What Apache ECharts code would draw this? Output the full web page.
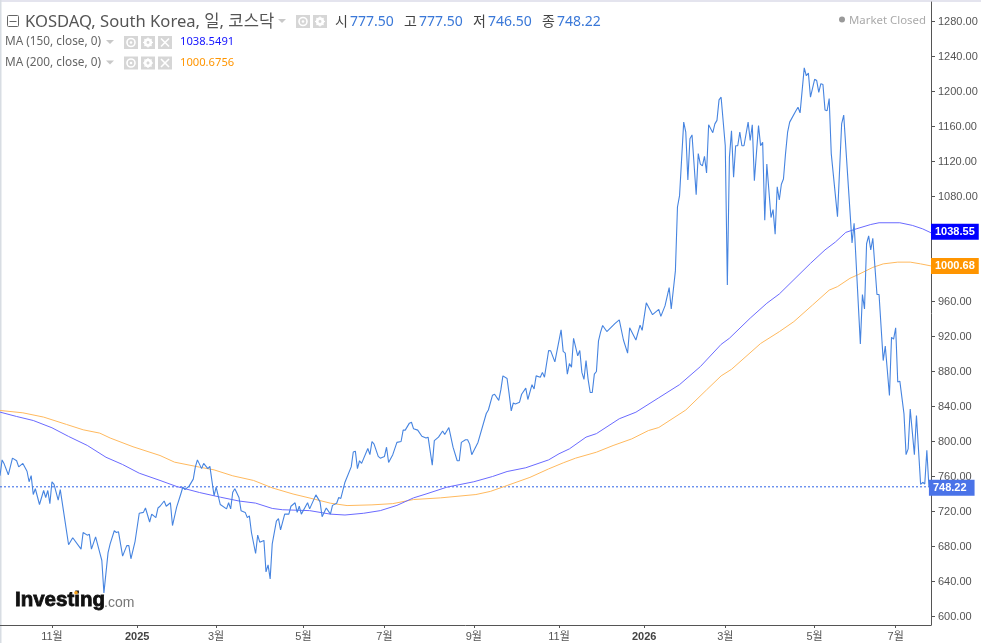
<!DOCTYPE html>
<html>
<head>
<meta charset="utf-8">
<style>html,body{margin:0;padding:0;background:#fff;overflow:hidden}#c{width:981px;height:643px}</style>
<script src="https://cdn.jsdelivr.net/npm/echarts@6/dist/echarts.min.js"></script>
</head>
<body>
<div id="c"></div>
<script>
const priceSeries = [[0,761],[1,779],[2,774.5],[4,762],[6,781],[8,778],[9,771],[11,775],[13,766],[14,754],[15,761],[16,739.5],[17,746],[19,728],[21,744],[22,736],[23,744],[24,729],[25,754],[26,751],[28,733],[29,745],[31,713.5],[33,682],[35,690],[39,677],[40,696],[42,693],[43,694],[44,677],[46,691],[48,673],[49,664],[50,627],[52,673],[53,683],[55,698],[56,696],[57,697],[59,669],[61,681],[62,681],[63,666],[65,686],[67,718],[69,719],[70,724],[72,708],[73,717],[75,713],[76,724],[77,726],[79,732],[80,726],[82,730],[83,704],[85,725],[87,740],[88,748],[89,745],[91,749],[93,757],[94,771],[95,779],[97,769],[98,775],[100,769],[101,771.5],[103,738],[104,748],[106,728],[109,723],[110,730],[111,723],[112,742],[113,746],[115,736],[116,721],[118,719],[119,713],[120,715],[121,696],[123,672],[124,693],[125,685],[127,687],[128,651],[129,659],[130,643],[131,683],[133,709],[134,712],[135,699],[137,717],[139,717],[140,726],[142,730],[143,719],[144,726],[145,717],[148,730],[149,723],[152,739],[154,731],[155,714],[157,724],[159,717],[160,727],[162,729.5],[163,736],[164,735],[166,753.5],[169,771],[170,788],[171,789],[172,769],[173,778],[174,775],[177,792],[178,785],[179,800],[180,797],[182,783],[183,781],[185,783],[186,793.5],[187,776],[189,785],[191,799],[193,800],[194,813],[195,813],[197,821],[198,822],[199,814.5],[201,813],[203,806],[205,804],[206,805],[208,773],[209,801],[211,805],[213,812],[214,808],[216,816],[218,793.5],[220,778],[221,778],[222,799],[224,802],[225,802],[226,797],[227,785],[230,799],[234,832],[235,836],[237,853],[238,854],[240,847],[241,859],[242,875],[244,872],[245,854.4],[246,835],[247,844],[248,843],[250,845],[251,854],[253,861],[254,848],[256,865],[257,860],[258,875],[260,873.5],[261,879],[262,873.5],[264,904],[265,903.6],[267,891],[270,927.6],[271,903],[272,901],[273,877],[274,889],[275,885],[276,918],[278,898],[279,904],[280,879],[281,871],[282,892.5],[283,871],[284,856],[285,856],[286,877],[287,880],[288,915],[289,925],[290,932.6],[292,925.7],[296,935],[298,939],[300,916],[302,901],[303,930],[306,916],[308,933],[309,927],[311,958.5],[314,945],[317,951],[318,943],[320,955],[322,976],[323,951.5],[325,995],[326,1068],[327,1081],[329,1165],[330,1153.5],[331,1099],[332,1146],[333,1150.4],[335,1082],[336,1129],[337,1117],[338,1115],[339,1126],[340,1107],[341,1162],[343,1153],[344,1163],[345,1167],[346,1190.4],[347,1193.5],[349,1138],[350,979],[351,1125],[352,1155],[353,1102],[354,1138],[355,1138],[356,1153.5],[357,1138],[358,1138],[360,1165],[361,1144],[362,1162],[363,1098],[365,1161],[366,1138],[367,1142],[368,1053],[369,1117],[371,1056],[372,1065],[373,1037],[374,1091],[375,1076],[376,1094],[377,1100],[378,1129],[379,1153.5],[380,1165],[383,1178],[384,1182],[385,1175.6],[387,1227],[388,1218],[389,1221],[390,1193.5],[392,1214],[393,1212.5],[394,1199],[395,1209],[396,1208],[397,1179],[398,1178],[399,1192],[400,1129],[403,1057],[405,1163],[406,1173],[410,1027],[411,1049.5],[414,911.6],[415,968],[416,951.6],[417,1026],[418,1035],[419,1019],[420,1032.3],[422,968],[423,968],[425,892.5],[426,909],[428,852.5],[429,919],[430,917],[431,930],[432,868],[433,869],[435,831.6],[436,785],[437,791.6],[438,837],[440,785],[441,829.6],[443,751],[444,753.4],[445,751.5],[446,790],[447,748.22]];
const ma150Series = [[0,833.6],[8,828.6],[16,824],[25,815.7],[33,805.8],[42,795.5],[51,782],[59,773.7],[67,763.8],[77,755.5],[85,748.6],[96,741.7],[106,736.4],[115,732],[123,729.6],[131,723.5],[136,722],[149,721],[159,717],[166,716],[175,718],[183,721],[191,727],[199,735.6],[205,740],[215,747.8],[228,754],[237,760],[244,765.7],[253,770],[264,779],[269,786],[274,791.6],[282,805],[287,809],[298,826],[306,833.5],[317,850],[327,865],[337,885.6],[347,911],[351,918],[361,941],[369,958],[375,968.6],[390,1003.6],[397,1019],[402,1028],[407,1039],[412,1043],[419,1048],[423,1050],[433,1050],[439,1047],[444,1043],[448,1038.55]];
const ma200Series = [[0,835.5],[11,832.8],[21,827.9],[32,819.5],[40,813.4],[48,809.6],[53,804],[64,794],[77,784],[84,776.4],[96,770.7],[103,767.6],[112,760.8],[122,755.5],[131,747],[141,740],[152,733.7],[159,729.5],[167,726.8],[179,727.6],[189,729],[199,733.7],[212,735.6],[229,739.4],[236,743],[244,749.7],[255,759],[264,768.7],[271,775.6],[277,781],[287,787.8],[295,795.4],[304,803],[312,812.5],[317,816],[330,836],[340,859],[347,875],[352,882.5],[366,912],[375,925.5],[382,937],[391,956],[399,973],[403,977],[409,986.5],[413,990.8],[420,999],[425,1003],[432,1005],[438,1005],[443,1003],[448,1000.68]];
const priceTicks = [600,640,680,720,760,800,840,880,920,960,1000,1040,1080,1120,1160,1200,1240,1280];
const monthTicks = [25,66,104,146,185,228,269,310,349,392,431];
const monthLabels = ['11월','2025','3월','5월','7월','9월','11월','2026','3월','5월','7월'];
const lastPrice = 748.22;
const lastPriceLine = [[0,lastPrice],[448,lastPrice]];
const ohlc = [['시','777.50'],['고','777.50'],['저','746.50'],['종','748.22']];
const maRows = [['MA (150, close, 0)','1038.5491','#1414ff'],['MA (200, close, 0)','1000.6756','#ff9500']];

const UI = "'Noto Sans','Noto Sans CJK KR',sans-serif";
const g = [];
const text = (x,y,s,fill,font,extra) => g.push({type:'text',x,y,silent:true,style:Object.assign({text:s,fill,font,textVerticalAlign:'middle',textBaseline:'middle'},extra||{})});
const rect = (x,y,w,h,fill) => g.push({type:'rect',shape:{x,y,width:w,height:h},style:{fill},silent:true});
const caret = (x,y) => g.push({type:'polygon',shape:{points:[[x,y],[x+8,y],[x+4,y+4]]},style:{fill:'#c8c8c8'},silent:true});
const box = '#d6d6d6';
function eye(x,y){rect(x,y,14,13,box);g.push({type:'circle',shape:{cx:x+7,cy:y+6.5,r:4},style:{fill:'none',stroke:'#fff',lineWidth:1.6},silent:true});g.push({type:'circle',shape:{cx:x+7,cy:y+6.5,r:1.3},style:{fill:'#fff'},silent:true});}
function gear(x,y){rect(x,y,14,13,box);g.push({type:'circle',shape:{cx:x+7,cy:y+6.5,r:3},style:{fill:'none',stroke:'#fff',lineWidth:2.4},silent:true});
 [[7,1.5,7,11.5],[2,6.5,12,6.5],[3.5,3,10.5,10],[3.5,10,10.5,3]].forEach(l=>g.push({type:'line',shape:{x1:x+l[0],y1:y+l[1],x2:x+l[2],y2:y+l[3]},style:{stroke:'#fff',lineWidth:1.2},silent:true}));
 g.push({type:'circle',shape:{cx:x+7,cy:y+6.5,r:1.4},style:{fill:box},silent:true});}
function cross(x,y){rect(x,y,14,13,box);[[3,2.5,11,10.5],[3,10.5,11,2.5]].forEach(l=>g.push({type:'line',shape:{x1:x+l[0],y1:y+l[1],x2:x+l[2],y2:y+l[3]},style:{stroke:'#fff',lineWidth:1.6},silent:true}));}

// frame strips
rect(0,0,981,2,'#e4e4ee');
rect(0,0,1.5,643,'#d8dde3');
// title row
g.push({type:'rect',shape:{x:7.5,y:15.5,width:11,height:11,r:1},style:{fill:'none',stroke:'#666',lineWidth:1},silent:true});
g.push({type:'line',shape:{x1:9.5,y1:21.5,x2:16.5,y2:21.5},style:{stroke:'#666',lineWidth:1},silent:true});
text(25,22,'KOSDAQ, South Korea, 일, 코스닥','#555',"16.6px "+UI);
caret(278,19);
eye(296,15);gear(313,15);
let ox=[335,404,473,542];
ohlc.forEach((o,i)=>{text(ox[i],22,o[0],'#444',"14px "+UI);text(ox[i]+15,22,o[1],'#3a78d8',"14px "+UI);});
// MA rows
maRows.forEach((r,i)=>{const y=42+i*20.5;
 text(5,y,r[0],'#666',"11.8px "+UI);caret(106,y-2);eye(124,y-6);gear(141,y-6);cross(158,y-6);
 text(180,y,r[1],r[2],"11.2px "+UI);});
// market closed
g.push({type:'circle',shape:{cx:842,cy:19.5,r:3},style:{fill:'#999'},silent:true});
text(849,20.5,'Market Closed','#aaa',"11.4px "+UI);
// logo
text(15,600.5,'Investing','#111',"bold 20.5px 'Liberation Sans'",{stroke:'#111',lineWidth:0.8});
text(104,603.5,'.com','#777',"14px 'Liberation Sans'");
g.push({type:'circle',shape:{cx:76,cy:592.7,r:1.8},style:{fill:'#f7a11a'},silent:true});

const tag = (bg,pad,off) => ({show:true,formatter:p=>p.value[1].toFixed(2),color:'#fff',backgroundColor:bg,
  fontFamily:"'Liberation Sans'",fontSize:11,fontWeight:'bold',lineHeight:10,padding:pad,distance:0,align:'left',offset:off||[0,0]});

const chart = echarts.init(document.getElementById('c'),null,{renderer:'canvas'});
chart.setOption({
 animation:false,
 grid:{left:0,right:50,top:2,bottom:18},
 xAxis:{type:'value',min:0,max:448,splitLine:{show:false},
  axisLine:{show:true,onZero:false,lineStyle:{color:'#555',width:1}},
  axisTick:{show:true,length:3,customValues:monthTicks,lineStyle:{color:'#555'}},
  axisLabel:{show:true,customValues:monthTicks,margin:6,hideOverlap:false,showMinLabel:true,showMaxLabel:true,
   formatter:v=>{const s=monthLabels[monthTicks.indexOf(v)];return /^\d{4}$/.test(s)?'{y|'+s+'}':s;},
   color:'#555',fontSize:11,fontFamily:"'Liberation Sans','Noto Sans CJK KR'",
   rich:{y:{fontWeight:'bold',color:'#444',fontSize:11,fontFamily:"'Liberation Sans'"}}}},
 yAxis:{type:'value',position:'right',min:590.3,max:1302.3,splitLine:{show:false},
  axisLine:{show:true,onZero:false,lineStyle:{color:'#555',width:1}},
  axisTick:{show:true,length:4,customValues:priceTicks,lineStyle:{color:'#555'}},
  axisLabel:{show:true,customValues:priceTicks,margin:7,formatter:v=>v.toFixed(2),color:'#555',fontSize:11,fontFamily:"'Liberation Sans'"}},
 series:[
  {type:'line',name:'Last',data:lastPriceLine,symbol:'none',silent:true,z:2,lineStyle:{color:'#2d62e8',type:[2,2],width:1}},
  {type:'line',name:'MA 200',data:ma200Series,symbol:'none',z:3,lineStyle:{color:'#ffb95e',width:1},endLabel:tag('#ff9500',[3,4,3,4])},
  {type:'line',name:'MA 150',data:ma150Series,symbol:'none',z:3,lineStyle:{color:'#6a6aff',width:1},endLabel:tag('#0000ff',[3,4,3,4],[0,-1])},
  {type:'line',name:'KOSDAQ',data:priceSeries,symbol:'none',z:4,lineStyle:{color:'#4684e0',width:1.1},endLabel:tag('#4a73e8',[3,8,3,4],[0,1])}
 ],
 graphic:{elements:g}
});
</script>
</body>
</html>
